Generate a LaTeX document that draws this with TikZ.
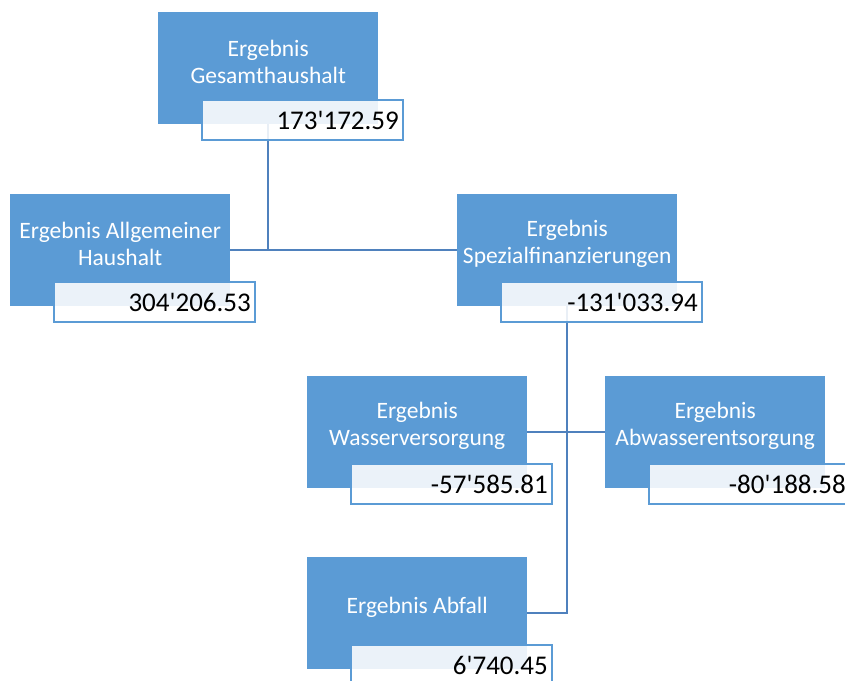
\documentclass[tikz,border=0pt]{standalone}
\usepackage{fontspec}
\setmainfont{Carlito}
\usetikzlibrary{calc}
\definecolor{boxblue}{RGB}{91,155,213}
\definecolor{lineblue}{RGB}{79,129,189}
\newcommand{\apo}{\textquotesingle}
\tikzset{
  unit/.style={draw=none, fill=boxblue, anchor=north west, minimum width=220pt,
    minimum height=112pt, inner sep=0pt},
  unittext/.style={text=white, font=\fontsize{23.5}{27}\selectfont, align=center, anchor=center, inner sep=0pt},
  valbox/.style={draw=boxblue, line width=2pt, fill=white, fill opacity=0.88, text opacity=1,
    anchor=north west, minimum width=201pt, minimum height=40pt, inner sep=0pt},
  valtext/.style={font=\fontsize{27}{31}\selectfont, anchor=east, inner sep=0pt},
  conn/.style={draw=lineblue, line width=2.5pt}
}
\begin{document}
\begin{tikzpicture}[x=1pt,y=-1pt]
\clip (0,0) rectangle (845,680);
\fill[white] (0,0) rectangle (845,680);
% blue units
\node[unit] (G) at (158,12) {};
\node[unit] (A) at (10,194) {};
\node[unit] (S) at (457,194) {};
\node[unit] (W) at (307,376) {};
\node[unit] (B) at (605,376) {};
\node[unit] (F) at (307,557) {};
% connectors
\coordinate (j1) at (G.south |- A.east);
\coordinate (j2) at (S.south |- F.east);
\draw[conn] (G.south) -- (j1);
\draw[conn] (A.east) -- (S.west);
\draw[conn] (S.south) -- (j2) -- (F.east);
\draw[conn] (W.east) -- (B.west);
% titles
\node[unittext] (Gt) at ($(G.north)+(0,50)$) {Ergebnis\\Gesamthaushalt};
\node[unittext] (At) at ($(A.north)+(0,50)$) {Ergebnis Allgemeiner\\Haushalt};
\node[unittext] (St) at ($(S.north)+(0,50)$) {Ergebnis\\Spezialfinanzierungen};
\node[unittext] (Wt) at ($(W.north)+(0,50)$) {Ergebnis\\Wasserversorgung};
\node[unittext] (Bt) at ($(B.north)+(0,50)$) {Ergebnis\\Abwasserentsorgung};
\node[unittext] (Ft) at ($(F.north)+(0,50)$) {Ergebnis Abfall};
% value boxes
\node[valbox] (Gv) at ($(G.north west)+(43,87)$) {};
\node[valbox] (Av) at ($(A.north west)+(43,87)$) {};
\node[valbox] (Sv) at ($(S.north west)+(43,87)$) {};
\node[valbox] (Wv) at ($(W.north west)+(43,87)$) {};
\node[valbox] (Bv) at ($(B.north west)+(43,87)$) {};
\node[valbox] (Fv) at ($(F.north west)+(43,87)$) {};
\node[valtext] at ($(Gv.east)+(-5,0)$) {173\apo172.59};
\node[valtext] at ($(Av.east)+(-5,0)$) {304\apo206.53};
\node[valtext] at ($(Sv.east)+(-5,0)$) {-131\apo033.94};
\node[valtext] at ($(Wv.east)+(-5,0)$) {-57\apo585.81};
\node[valtext] at ($(Bv.east)+(-5,0)$) {-80\apo188.58};
\node[valtext] at ($(Fv.east)+(-5,0)$) {6\apo740.45};
\end{tikzpicture}
\end{document}
